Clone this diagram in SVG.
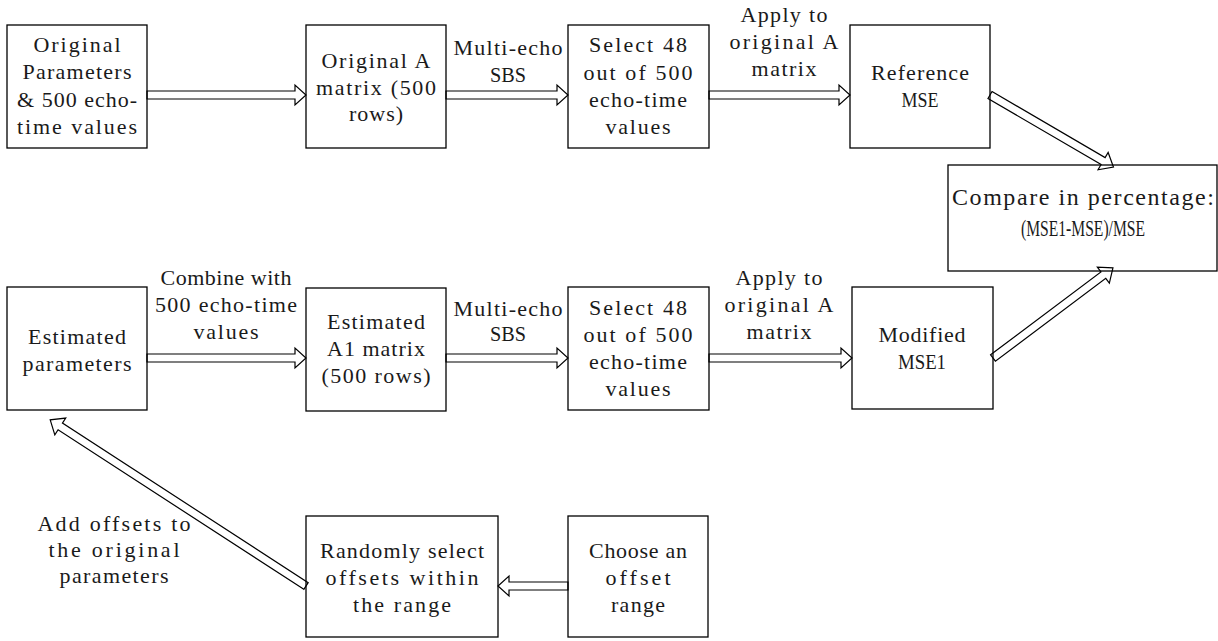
<svg xmlns="http://www.w3.org/2000/svg" width="1218" height="641" viewBox="0 0 1218 641">
  <style>
    .box { fill: none; stroke: #000; stroke-width: 1.3; }
    .arr { fill: #fff; stroke: #000; stroke-width: 1.2; stroke-linejoin: miter; }
    text { font-family: "Liberation Serif", "DejaVu Serif", serif; font-size: 22px; fill: #1a1a1a; text-anchor: middle; }
    .big { font-size: 24px; }
  </style>
  <rect width="1218" height="641" fill="#fff"/>

  <!-- hollow double-line arrows: local frame points along +x, tail at origin -->
  <g id="connectors">
    <path class="arr" transform="translate(147 95)" d="M0,-4H148V-10L159,0L148,10V4H0Z"/>
    <path class="arr" transform="translate(446 95)" d="M0,-4H111V-10L122,0L111,10V4H0Z"/>
    <path class="arr" transform="translate(709 95)" d="M0,-4H130V-10L141,0L130,10V4H0Z"/>
    <path class="arr" transform="translate(990 95) rotate(30.3)" d="M0,-4H131V-10L143,0L131,10V4H0Z"/>
    <path class="arr" transform="translate(147 358)" d="M0,-4H148V-10L159,0L148,10V4H0Z"/>
    <path class="arr" transform="translate(446 358)" d="M0,-4H111V-10L122,0L111,10V4H0Z"/>
    <path class="arr" transform="translate(709 358)" d="M0,-4H132V-10L143,0L132,10V4H0Z"/>
    <path class="arr" transform="translate(993 358) rotate(-36.9)" d="M0,-4H138V-10L150,0L138,10V4H0Z"/>
    <path class="arr" transform="translate(568 586) rotate(180)" d="M0,-4H59V-10L70,0L59,10V4H0Z"/>
    <path class="arr" transform="translate(306 586) rotate(-147)" d="M0,-4H293V-10L305,0L293,10V4H0Z"/>
  </g>

  <!-- connector labels; each line is spread to a fixed cell width per character -->
  <g id="labels">
    <text x="508" y="55" textLength="109">Multi-echo</text>
    <text x="508" y="82" textLength="36" lengthAdjust="spacingAndGlyphs">SBS</text>
    <text x="784" y="22" textLength="87">Apply to</text>
    <text x="784" y="49" textLength="109">original A</text>
    <text x="784" y="76" textLength="65">matrix</text>
    <text x="226" y="285" textLength="131">Combine with</text>
    <text x="226" y="312" textLength="142">500 echo-time</text>
    <text x="226" y="339" textLength="65">values</text>
    <text x="508" y="316" textLength="109">Multi-echo</text>
    <text x="508" y="341" textLength="36" lengthAdjust="spacingAndGlyphs">SBS</text>
    <text x="779" y="285" textLength="87">Apply to</text>
    <text x="779" y="312" textLength="109">original A</text>
    <text x="779" y="339" textLength="65">matrix</text>
    <text x="114" y="531" textLength="153">Add offsets to</text>
    <text x="114" y="557" textLength="131">the original</text>
    <text x="114" y="583" textLength="109">parameters</text>
  </g>

  <g id="orig-params">
    <rect class="box" x="7" y="25" width="140" height="123"/>
    <text x="77" y="52" textLength="87">Original</text>
    <text x="77" y="79" textLength="109">Parameters</text>
    <text x="77" y="107" textLength="120">&amp; 500 echo-</text>
    <text x="77" y="134" textLength="120">time values</text>
  </g>

  <g id="orig-matrix">
    <rect class="box" x="306" y="25" width="140" height="123"/>
    <text x="376" y="68" textLength="109">Original A</text>
    <text x="376" y="95" textLength="120">matrix (500</text>
    <text x="376" y="121" textLength="54">rows)</text>
  </g>

  <g id="select-ref">
    <rect class="box" x="568" y="25" width="141" height="123"/>
    <text x="638" y="52" textLength="98">Select 48</text>
    <text x="638" y="80" textLength="109">out of 500</text>
    <text x="638" y="107" textLength="98">echo-time</text>
    <text x="638" y="134" textLength="65">values</text>
  </g>

  <g id="ref-mse">
    <rect class="box" x="850" y="25" width="140" height="123"/>
    <text x="920" y="80" textLength="98">Reference</text>
    <text x="920" y="107" textLength="37" lengthAdjust="spacingAndGlyphs">MSE</text>
  </g>

  <g id="compare">
    <rect class="box" x="948" y="165" width="269" height="106"/>
    <text class="big" x="1083" y="205" textLength="262">Compare in percentage:</text>
    <text class="big" x="1083" y="236" textLength="124" lengthAdjust="spacingAndGlyphs">(MSE1-MSE)/MSE</text>
  </g>

  <g id="est-params">
    <rect class="box" x="7" y="287" width="140" height="123"/>
    <text x="77" y="344" textLength="98">Estimated</text>
    <text x="77" y="371" textLength="109">parameters</text>
  </g>

  <g id="est-matrix">
    <rect class="box" x="306" y="288" width="140" height="123"/>
    <text x="376" y="329" textLength="98">Estimated</text>
    <text x="376" y="356" textLength="98">A1 matrix</text>
    <text x="376" y="383" textLength="109">(500 rows)</text>
  </g>

  <g id="select-mod">
    <rect class="box" x="568" y="287" width="141" height="123"/>
    <text x="638" y="315" textLength="98">Select 48</text>
    <text x="638" y="342" textLength="109">out of 500</text>
    <text x="638" y="369" textLength="98">echo-time</text>
    <text x="638" y="396" textLength="65">values</text>
  </g>

  <g id="mod-mse">
    <rect class="box" x="852" y="287" width="141" height="122"/>
    <text x="922" y="342" textLength="87">Modified</text>
    <text x="922" y="369" textLength="48" lengthAdjust="spacingAndGlyphs">MSE1</text>
  </g>

  <g id="random-offsets">
    <rect class="box" x="306" y="516" width="192" height="121"/>
    <text x="402" y="558" textLength="164">Randomly select</text>
    <text x="402" y="585" textLength="153">offsets within</text>
    <text x="402" y="612" textLength="98">the range</text>
  </g>

  <g id="offset-range">
    <rect class="box" x="568" y="516" width="140" height="121"/>
    <text x="638" y="558" textLength="98">Choose an</text>
    <text x="638" y="585" textLength="65">offset</text>
    <text x="638" y="612" textLength="54">range</text>
  </g>
</svg>
